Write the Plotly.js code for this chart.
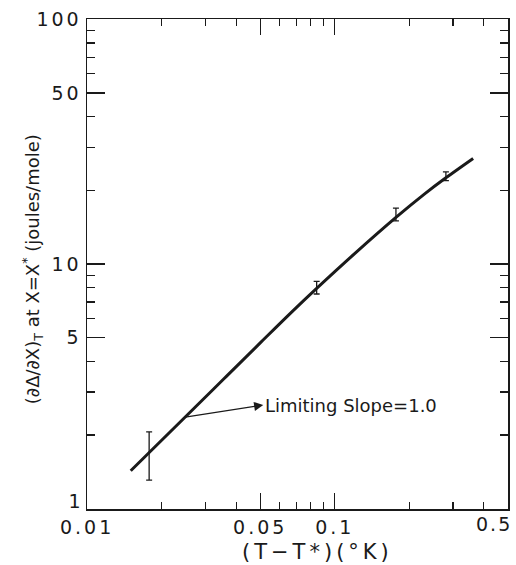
<!DOCTYPE html>
<html>
<head>
<meta charset="utf-8">
<script src="https://cdn.plot.ly/plotly-3.0.1.min.js"></script>
<style>
html,body{margin:0;padding:0;background:#fff;}
#chart{width:516px;height:565px;}
#chart .xtick text, #chart .ytick text{letter-spacing:3px;}
#chart g.annotation[data-index="1"] text{letter-spacing:3px;}
#chart g.annotation[data-index="2"] text{letter-spacing:2px;}
#chart g.annotation[data-index="3"] text{letter-spacing:4px;}
</style>
</head>
<body>
<div id="chart"></div>
<script>
// Smooth curve through the measured derivative values
const curveX = [0.0150, 0.0249, 0.0356, 0.050, 0.0676, 0.0845, 0.120, 0.1766, 0.230, 0.281, 0.362];
const curveY = [1.43, 2.37, 3.39, 4.76, 6.42, 7.95, 11.0, 15.5, 19.3, 22.5, 27.0];

// Data points with error bars
const ptsX = [0.0178, 0.0845, 0.1766, 0.281];
const ptsY = [1.68, 8.0, 15.9, 22.8];
const errPlus = [0.38, 0.50, 1.0, 1.0];
const errMinus = [0.37, 0.46, 0.9, 0.9];

// Ticks
const xMajorVals = [0.01, 0.05, 0.1];
const xMajorText = ["0.01", "0.05", "0.1"];
const xEndLabel = {value: 0.5, text: "0.5"};
const xMinorVals = [0.02, 0.03, 0.04, 0.06, 0.07, 0.08, 0.09, 0.2, 0.3, 0.4];
const yMajorVals = [5, 10, 50, 100];
const yMajorText = ["5", "10", "50", "100"];
const yBottomLabel = {value: 1, text: "1"};
const yMinorVals = [2, 3, 4, 6, 7, 8, 9, 20, 30, 40, 60, 70, 80, 90];

// Annotation anchor (point on curve)
const arrowTip = [0.0249, 2.37];
const labelText = "Limiting Slope=1.0";

const FONT = "DejaVu Sans, sans-serif";
const INK = "#1a1a1a";

const traces = [
  {
    x: curveX, y: curveY, mode: "lines", type: "scatter",
    line: {color: INK, width: 3, shape: "spline", smoothing: 1},
    hoverinfo: "skip", showlegend: false
  },
  {
    x: ptsX, y: ptsY, mode: "markers", type: "scatter",
    marker: {size: 1, color: "rgba(0,0,0,0)"},
    error_y: {type: "data", symmetric: false, array: errPlus, arrayminus: errMinus,
              color: INK, thickness: 1.3, width: 3},
    showlegend: false
  }
];

const layout = {
  width: 516, height: 565,
  margin: {l: 87, r: 8, t: 19, b: 56},
  paper_bgcolor: "#fff", plot_bgcolor: "#fff",
  font: {family: FONT, color: INK, size: 19},
  showlegend: false,
  xaxis: {
    type: "log",
    range: [Math.log10(0.01) - 0.0005, Math.log10(0.5) + 0.0005],
    tickmode: "array", tickvals: xMajorVals, ticktext: xMajorText,
    ticks: "inside", ticklen: 16, tickwidth: 1.3, tickcolor: INK,
    minor: {tickmode: "array", tickvals: xMinorVals, ticks: "inside", ticklen: 7, tickwidth: 1.2, tickcolor: INK, showgrid: false},
    showline: true, linecolor: INK, linewidth: 1.5, mirror: "ticks",
    showgrid: false, zeroline: false,
    tickfont: {family: FONT, size: 19, color: INK},
    ticklabelstandoff: 1
  },
  yaxis: {
    type: "log",
    range: [-0.001, 2.001],
    tickmode: "array", tickvals: yMajorVals, ticktext: yMajorText,
    ticks: "inside", ticklen: 18, tickwidth: 1.3, tickcolor: INK,
    minor: {tickmode: "array", tickvals: yMinorVals, ticks: "inside", ticklen: 8, tickwidth: 1.2, tickcolor: INK, showgrid: false},
    showline: true, linecolor: INK, linewidth: 1.5, mirror: "ticks",
    showgrid: false, zeroline: false,
    tickfont: {family: FONT, size: 19, color: INK},
    ticklabelstandoff: 0
  },
  annotations: [
    {
      x: Math.log10(arrowTip[0]), y: Math.log10(arrowTip[1]), xref: "x", yref: "y",
      text: labelText, showarrow: true, ax: 78, ay: -12,
      xanchor: "left", yanchor: "middle",
      arrowside: "start", startarrowhead: 2, startarrowsize: 1.4,
      arrowwidth: 1.3, arrowcolor: INK, standoff: 0, startstandoff: 0,
      font: {family: FONT, size: 18, color: INK}
    },
    {
      xref: "paper", yref: "y", x: 0, y: Math.log10(yBottomLabel.value),
      xanchor: "right", yanchor: "middle", xshift: -3, yshift: 8,
      text: yBottomLabel.text, showarrow: false,
      font: {family: FONT, size: 19, color: INK}
    },
    {
      xref: "x", yref: "paper", x: Math.log10(xEndLabel.value), y: 0,
      xanchor: "right", yanchor: "top", xshift: 3, yshift: -2,
      text: xEndLabel.text, showarrow: false,
      font: {family: FONT, size: 19, color: INK}
    },
    {
      xref: "paper", yref: "paper", x: 0.548, y: -0.088, xanchor: "center", yanchor: "middle",
      text: "(T−T*)(°K)", showarrow: false,
      font: {family: FONT, size: 21, color: INK}
    },
    {
      xref: "paper", yref: "paper", x: -0.13, y: 0.49, xanchor: "center", yanchor: "middle",
      textangle: -90,
      text: "(∂Δ/∂X)<sub>T</sub> at X=X<sup>*</sup> (joules/mole)", showarrow: false,
      font: {family: FONT, size: 18, color: INK}
    }
  ]
};

Plotly.newPlot("chart", traces, layout, {displayModeBar: false, staticPlot: true});
</script>
</body>
</html>
